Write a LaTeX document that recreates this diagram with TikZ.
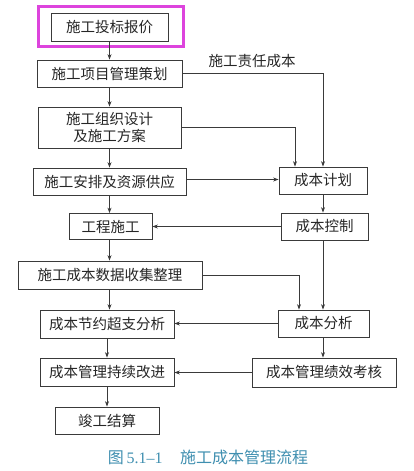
\documentclass[tikz,border=0pt]{standalone}
\usepackage{fontspec}
\newfontfamily\cjk{Noto Sans CJK SC}
\newfontfamily\capserif{Liberation Serif}
\usetikzlibrary{arrows.meta,calc}
\definecolor{linec}{HTML}{3A3A3A}
\definecolor{capc}{HTML}{3F8FB0}
\definecolor{magc}{HTML}{DD44DD}
\tikzset{
  box/.style={draw=linec,line width=0.8pt,inner sep=0pt,align=center,font=\cjk\fontsize{14.5}{17.5}\selectfont,text=black!85},
  arr/.style={draw=linec,line width=0.7pt,-{Stealth[length=5.5pt,width=4pt]}},
  lbl/.style={inner sep=0pt,font=\cjk\fontsize{14.5}{17.5}\selectfont,text=black!85},
}
\begin{document}
\begin{tikzpicture}[x=1pt,y=-1pt]
\useasboundingbox[fill=white] (0,0) rectangle (414,471);
% left column
\node[box,minimum width=117pt,minimum height=28pt] (b1) at (109.5,27) {施工投标报价};
\node[draw=magc,line width=3pt,inner sep=0pt,minimum width=145pt,minimum height=40pt] (mag) at (110.5,26) {};
\node[box,minimum width=145pt,minimum height=27pt] (b2) at (109.5,73.5) {施工项目管理策划};
\node[box,minimum width=143pt,minimum height=41pt] (b3) at (109.5,127.5) {施工组织设计\\及施工方案};
\node[box,minimum width=153pt,minimum height=27pt] (b4) at (109.5,181.5) {施工安排及资源供应};
\node[box,minimum width=83pt,minimum height=26pt] (gc) at (110.5,226.5) {工程施工};
\node[box,minimum width=184pt,minimum height=28pt] (data) at (110,275) {施工成本数据收集整理};
\node[box,minimum width=134pt,minimum height=28pt] (save) at (107,324) {成本节约超支分析};
\node[box,minimum width=134pt,minimum height=28pt] (impr) at (107,372) {成本管理持续改进};
\node[box,minimum width=104pt,minimum height=27pt] (fin) at (107,420.5) {竣工结算};
% right column
\node[box,minimum width=88pt,minimum height=27pt] (plan) at (323,180.5) {成本计划};
\node[box,minimum width=87pt,minimum height=27pt] (ctrl) at (324.5,226.5) {成本控制};
\node[box,minimum width=91pt,minimum height=27pt] (anal) at (323.5,323.5) {成本分析};
\node[box,minimum width=144pt,minimum height=29pt] (perf) at (324,372.5) {成本管理绩效考核};
% label
\node[lbl] (resp) at (252,61) {施工责任成本};
% caption
\node[inner sep=0pt,text=capc,font=\fontsize{16}{19}\selectfont] (cap) at (208,457) {{\cjk 图}\,{\capserif 5.1–1}\hspace{1.1em}{\cjk 施工成本管理流程}};
% coordinates for bends
\coordinate (p1) at (323,0);
\coordinate (p2) at (295,0);
\coordinate (p3) at (299,0);
% connectors
\draw[arr] (b1.south) -- (b1.south |- b2.north);
\draw[arr] (b2.south) -- (b2.south |- b3.north);
\draw[arr] (b3.south) -- (b3.south |- b4.north);
\draw[arr] (b4.south) -- (b4.south |- gc.north);
\draw[arr] (b4.south |- gc.south) -- (b4.south |- data.north);
\draw[arr] (b4.south |- data.south) -- (b4.south |- save.north);
\draw[arr] (save.south) -- (impr.north);
\draw[arr] (impr.south) -- (fin.north);
\draw[arr] (b2.east) -| (p1 |- plan.north);
\draw[arr] (b3.east) -| (p2 |- plan.north);
\draw[arr] ([yshift=2pt]b4.east) -- ([yshift=2pt]b4.east -| plan.west);
\draw[arr] (p1 |- plan.south) -- (p1 |- ctrl.north);
\draw[arr] (ctrl.west) -- (ctrl.west -| gc.east);
\draw[arr] (p1 |- ctrl.south) -- (p1 |- anal.north);
\draw[arr] (data.east) -| (p3 |- anal.north);
\draw[arr] (anal.west) -- (anal.west -| save.east);
\draw[arr] (p1 |- anal.south) -- (p1 |- perf.north);
\draw[arr] (perf.west) -- (perf.west -| impr.east);
\end{tikzpicture}
\end{document}
